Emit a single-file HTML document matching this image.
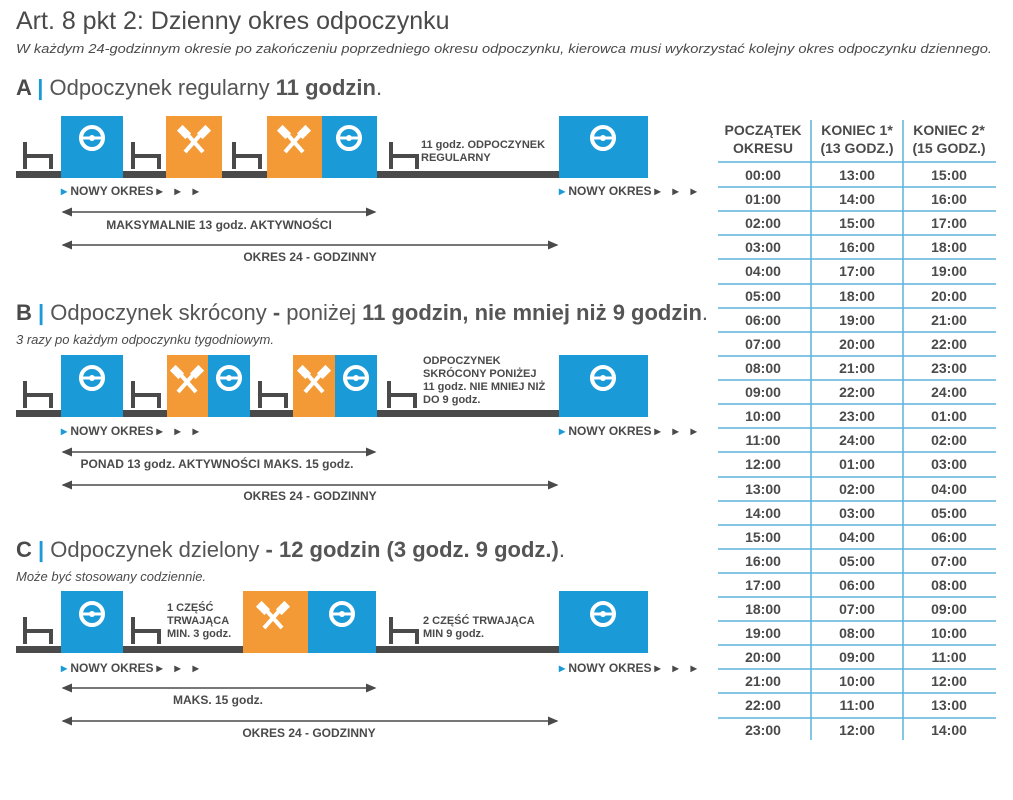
<!DOCTYPE html>
<html><head><meta charset="utf-8"><style>
body{margin:0;background:#fff}
svg{display:block;font-family:"Liberation Sans",sans-serif}
.t{fill:#4a4a4a;font-weight:bold;font-size:12px}
.s{fill:#4a4a4a;font-weight:bold;font-size:11px}
.h{fill:#555;font-size:22px}
.tb{fill:#4a4a4a;font-weight:bold;font-size:14px;text-anchor:middle}
</style></head><body>
<svg width="1013" height="800" viewBox="0 0 1013 800">
<defs>
<g id="tacho"><circle cx="0" cy="0" r="11" fill="none" stroke="#fff" stroke-width="4"/><line x1="-10" y1="0" x2="10" y2="0" stroke="#fff" stroke-width="3"/><circle cx="0" cy="0" r="3" fill="#fff"/></g>
<g id="ham" stroke="#fff" stroke-width="4" fill="#fff"><line x1="-9" y1="12" x2="7" y2="-6"/><line x1="9" y1="12" x2="-7" y2="-6"/><rect x="-16" y="-12" width="12" height="8" transform="rotate(45 -10 -8)" stroke="none"/><rect x="4" y="-12" width="12" height="8" transform="rotate(-45 10 -8)" stroke="none"/></g>
<g id="bed" fill="none" stroke="#4a4a4a" stroke-width="4"><path d="M2 -28 V-1 M2 -14 H28 V-1"/></g>
<marker id="ar" markerWidth="8" markerHeight="8" refX="1" refY="3" orient="auto"><path d="M0 3 L7 0 L7 6z" fill="#4a4a4a"/></marker>
<marker id="ar2" markerWidth="8" markerHeight="8" refX="6" refY="3" orient="auto"><path d="M7 3 L0 0 L0 6z" fill="#4a4a4a"/></marker>
<g id="nowy"><text class="t"><tspan fill="#1a9ad6">▸</tspan> NOWY OKRES<tspan dx="3">▸</tspan><tspan dx="12">▸</tspan><tspan dx="12">▸</tspan></text></g>
</defs>
<text x="16" y="29" fill="#4a4a4a" font-size="25">Art. 8 pkt 2: Dzienny okres odpoczynku</text>
<text x="16" y="53" fill="#4a4a4a" font-size="13" font-style="italic" textLength="976" lengthAdjust="spacingAndGlyphs">W każdym 24-godzinnym okresie po zakończeniu poprzedniego okresu odpoczynku, kierowca musi wykorzystać kolejny okres odpoczynku dziennego.</text>

<!-- A -->
<text x="16" y="95" class="h"><tspan font-weight="bold" fill="#4a4a4a">A</tspan><tspan fill="#1a9ad6" font-weight="bold"> | </tspan>Odpoczynek regularny <tspan font-weight="bold">11 godzin</tspan>.</text>
<rect x="16" y="171" width="543" height="7" fill="#4a4a4a"/>
<rect x="61" y="116" width="62" height="62" fill="#1a9ad6"/><use href="#tacho" x="92" y="138"/>
<rect x="166" y="116" width="56" height="62" fill="#f39a36"/><use href="#ham" x="194" y="140"/>
<rect x="267" y="116" width="55" height="62" fill="#f39a36"/><use href="#ham" x="294" y="140"/>
<rect x="322" y="116" width="55" height="62" fill="#1a9ad6"/><use href="#tacho" x="349" y="138"/>
<rect x="559" y="116" width="89" height="62" fill="#1a9ad6"/><use href="#tacho" x="603" y="138"/>
<use href="#bed" x="23" y="170"/><use href="#bed" x="131" y="170"/><use href="#bed" x="232" y="170"/><use href="#bed" x="389" y="170"/>
<text x="421" y="148" class="s">11 godz. ODPOCZYNEK</text><text x="421" y="161" class="s">REGULARNY</text>
<use href="#nowy" x="61" y="195"/><use href="#nowy" x="559" y="195"/>
<line x1="63" y1="212" x2="375" y2="212" stroke="#4a4a4a" stroke-width="1.5" marker-start="url(#ar)" marker-end="url(#ar2)"/>
<text x="219" y="229" class="t" text-anchor="middle">MAKSYMALNIE 13 godz. AKTYWNOŚCI</text>
<line x1="63" y1="245" x2="557" y2="245" stroke="#4a4a4a" stroke-width="1.5" marker-start="url(#ar)" marker-end="url(#ar2)"/>
<text x="310" y="261" class="t" text-anchor="middle">OKRES 24 - GODZINNY</text>

<!-- B -->
<text x="16" y="320" class="h"><tspan font-weight="bold" fill="#4a4a4a">B</tspan><tspan fill="#1a9ad6" font-weight="bold"> | </tspan>Odpoczynek skrócony <tspan font-weight="bold">-</tspan> poniżej <tspan font-weight="bold">11 godzin, nie mniej niż 9 godzin</tspan>.</text>
<text x="16" y="344" fill="#4a4a4a" font-size="13" font-style="italic">3 razy po każdym odpoczynku tygodniowym.</text>
<rect x="16" y="410" width="543" height="7" fill="#4a4a4a"/>
<rect x="61" y="355" width="62" height="62" fill="#1a9ad6"/><use href="#tacho" x="92" y="378"/>
<rect x="167" y="355" width="41" height="62" fill="#f39a36"/><use href="#ham" x="187" y="380"/>
<rect x="208" y="355" width="42" height="62" fill="#1a9ad6"/><use href="#tacho" x="229" y="378"/>
<rect x="293" y="355" width="42" height="62" fill="#f39a36"/><use href="#ham" x="314" y="380"/>
<rect x="335" y="355" width="42" height="62" fill="#1a9ad6"/><use href="#tacho" x="356" y="378"/>
<rect x="559" y="355" width="89" height="62" fill="#1a9ad6"/><use href="#tacho" x="603" y="378"/>
<use href="#bed" x="23" y="409"/><use href="#bed" x="131" y="409"/><use href="#bed" x="258" y="409"/><use href="#bed" x="387" y="409"/>
<text x="423" y="364" class="s">ODPOCZYNEK</text><text x="423" y="377" class="s">SKRÓCONY PONIŻEJ</text><text x="423" y="390" class="s">11 godz. NIE MNIEJ NIŻ</text><text x="423" y="403" class="s">DO 9 godz.</text>
<use href="#nowy" x="61" y="435"/><use href="#nowy" x="559" y="435"/>
<line x1="63" y1="452" x2="375" y2="452" stroke="#4a4a4a" stroke-width="1.5" marker-start="url(#ar)" marker-end="url(#ar2)"/>
<text x="217" y="468" class="t" text-anchor="middle">PONAD 13 godz. AKTYWNOŚCI MAKS. 15 godz.</text>
<line x1="63" y1="485" x2="557" y2="485" stroke="#4a4a4a" stroke-width="1.5" marker-start="url(#ar)" marker-end="url(#ar2)"/>
<text x="310" y="500" class="t" text-anchor="middle">OKRES 24 - GODZINNY</text>

<!-- C -->
<text x="16" y="557" class="h"><tspan font-weight="bold" fill="#4a4a4a">C</tspan><tspan fill="#1a9ad6" font-weight="bold"> | </tspan>Odpoczynek dzielony <tspan font-weight="bold">- 12 godzin (3 godz. 9 godz.)</tspan>.</text>
<text x="16" y="581" fill="#4a4a4a" font-size="13" font-style="italic">Może być stosowany codziennie.</text>
<rect x="16" y="646" width="543" height="7" fill="#4a4a4a"/>
<rect x="61" y="591" width="62" height="62" fill="#1a9ad6"/><use href="#tacho" x="92" y="614"/>
<rect x="243" y="591" width="65" height="62" fill="#f39a36"/><use href="#ham" x="273" y="616"/>
<rect x="308" y="591" width="68" height="62" fill="#1a9ad6"/><use href="#tacho" x="342" y="614"/>
<rect x="559" y="591" width="89" height="62" fill="#1a9ad6"/><use href="#tacho" x="603" y="614"/>
<use href="#bed" x="23" y="645"/><use href="#bed" x="131" y="645"/><use href="#bed" x="389" y="645"/>
<text x="167" y="611" class="s">1 CZĘŚĆ</text><text x="167" y="624" class="s">TRWAJĄCA</text><text x="167" y="637" class="s">MIN. 3 godz.</text>
<text x="423" y="624" class="s">2 CZĘŚĆ TRWAJĄCA</text><text x="423" y="637" class="s">MIN 9 godz.</text>
<use href="#nowy" x="61" y="672"/><use href="#nowy" x="559" y="672"/>
<line x1="63" y1="688" x2="375" y2="688" stroke="#4a4a4a" stroke-width="1.5" marker-start="url(#ar)" marker-end="url(#ar2)"/>
<text x="218" y="704" class="t" text-anchor="middle">MAKS. 15 godz.</text>
<line x1="63" y1="721" x2="557" y2="721" stroke="#4a4a4a" stroke-width="1.5" marker-start="url(#ar)" marker-end="url(#ar2)"/>
<text x="309" y="737" class="t" text-anchor="middle">OKRES 24 - GODZINNY</text>

<!-- table -->
<g stroke="#5bb4dc" stroke-width="1.5">
<line x1="811" y1="120" x2="811" y2="740"/><line x1="903" y1="120" x2="903" y2="740"/>
<line x1="718" y1="162" x2="996" y2="162"/>
<line x1="718" y1="187" x2="996" y2="187"/><line x1="718" y1="211" x2="996" y2="211"/><line x1="718" y1="235" x2="996" y2="235"/><line x1="718" y1="259" x2="996" y2="259"/><line x1="718" y1="284" x2="996" y2="284"/><line x1="718" y1="308" x2="996" y2="308"/><line x1="718" y1="332" x2="996" y2="332"/><line x1="718" y1="356" x2="996" y2="356"/><line x1="718" y1="380" x2="996" y2="380"/><line x1="718" y1="404" x2="996" y2="404"/><line x1="718" y1="428" x2="996" y2="428"/><line x1="718" y1="452" x2="996" y2="452"/><line x1="718" y1="477" x2="996" y2="477"/><line x1="718" y1="501" x2="996" y2="501"/><line x1="718" y1="525" x2="996" y2="525"/><line x1="718" y1="549" x2="996" y2="549"/><line x1="718" y1="573" x2="996" y2="573"/><line x1="718" y1="597" x2="996" y2="597"/><line x1="718" y1="621" x2="996" y2="621"/><line x1="718" y1="645" x2="996" y2="645"/><line x1="718" y1="669" x2="996" y2="669"/><line x1="718" y1="693" x2="996" y2="693"/><line x1="718" y1="718" x2="996" y2="718"/>
</g>
<text x="763" y="135" class="tb">POCZĄTEK</text><text x="763" y="153" class="tb">OKRESU</text>
<text x="857" y="135" class="tb">KONIEC 1*</text><text x="857" y="153" class="tb" font-weight="normal">(13 GODZ.)</text>
<text x="949" y="135" class="tb">KONIEC 2*</text><text x="949" y="153" class="tb" font-weight="normal">(15 GODZ.)</text>
<g class="tb">
<text x="763" y="180" class="tb">00:00</text><text x="857" y="180" class="tb">13:00</text><text x="949" y="180" class="tb">15:00</text>
<text x="763" y="204" class="tb">01:00</text><text x="857" y="204" class="tb">14:00</text><text x="949" y="204" class="tb">16:00</text>
<text x="763" y="228" class="tb">02:00</text><text x="857" y="228" class="tb">15:00</text><text x="949" y="228" class="tb">17:00</text>
<text x="763" y="252" class="tb">03:00</text><text x="857" y="252" class="tb">16:00</text><text x="949" y="252" class="tb">18:00</text>
<text x="763" y="276" class="tb">04:00</text><text x="857" y="276" class="tb">17:00</text><text x="949" y="276" class="tb">19:00</text>
<text x="763" y="301" class="tb">05:00</text><text x="857" y="301" class="tb">18:00</text><text x="949" y="301" class="tb">20:00</text>
<text x="763" y="325" class="tb">06:00</text><text x="857" y="325" class="tb">19:00</text><text x="949" y="325" class="tb">21:00</text>
<text x="763" y="349" class="tb">07:00</text><text x="857" y="349" class="tb">20:00</text><text x="949" y="349" class="tb">22:00</text>
<text x="763" y="373" class="tb">08:00</text><text x="857" y="373" class="tb">21:00</text><text x="949" y="373" class="tb">23:00</text>
<text x="763" y="397" class="tb">09:00</text><text x="857" y="397" class="tb">22:00</text><text x="949" y="397" class="tb">24:00</text>
<text x="763" y="421" class="tb">10:00</text><text x="857" y="421" class="tb">23:00</text><text x="949" y="421" class="tb">01:00</text>
<text x="763" y="445" class="tb">11:00</text><text x="857" y="445" class="tb">24:00</text><text x="949" y="445" class="tb">02:00</text>
<text x="763" y="469" class="tb">12:00</text><text x="857" y="469" class="tb">01:00</text><text x="949" y="469" class="tb">03:00</text>
<text x="763" y="494" class="tb">13:00</text><text x="857" y="494" class="tb">02:00</text><text x="949" y="494" class="tb">04:00</text>
<text x="763" y="518" class="tb">14:00</text><text x="857" y="518" class="tb">03:00</text><text x="949" y="518" class="tb">05:00</text>
<text x="763" y="542" class="tb">15:00</text><text x="857" y="542" class="tb">04:00</text><text x="949" y="542" class="tb">06:00</text>
<text x="763" y="566" class="tb">16:00</text><text x="857" y="566" class="tb">05:00</text><text x="949" y="566" class="tb">07:00</text>
<text x="763" y="590" class="tb">17:00</text><text x="857" y="590" class="tb">06:00</text><text x="949" y="590" class="tb">08:00</text>
<text x="763" y="614" class="tb">18:00</text><text x="857" y="614" class="tb">07:00</text><text x="949" y="614" class="tb">09:00</text>
<text x="763" y="638" class="tb">19:00</text><text x="857" y="638" class="tb">08:00</text><text x="949" y="638" class="tb">10:00</text>
<text x="763" y="662" class="tb">20:00</text><text x="857" y="662" class="tb">09:00</text><text x="949" y="662" class="tb">11:00</text>
<text x="763" y="686" class="tb">21:00</text><text x="857" y="686" class="tb">10:00</text><text x="949" y="686" class="tb">12:00</text>
<text x="763" y="710" class="tb">22:00</text><text x="857" y="710" class="tb">11:00</text><text x="949" y="710" class="tb">13:00</text>
<text x="763" y="735" class="tb">23:00</text><text x="857" y="735" class="tb">12:00</text><text x="949" y="735" class="tb">14:00</text>
</g>
</svg>
</body></html>
